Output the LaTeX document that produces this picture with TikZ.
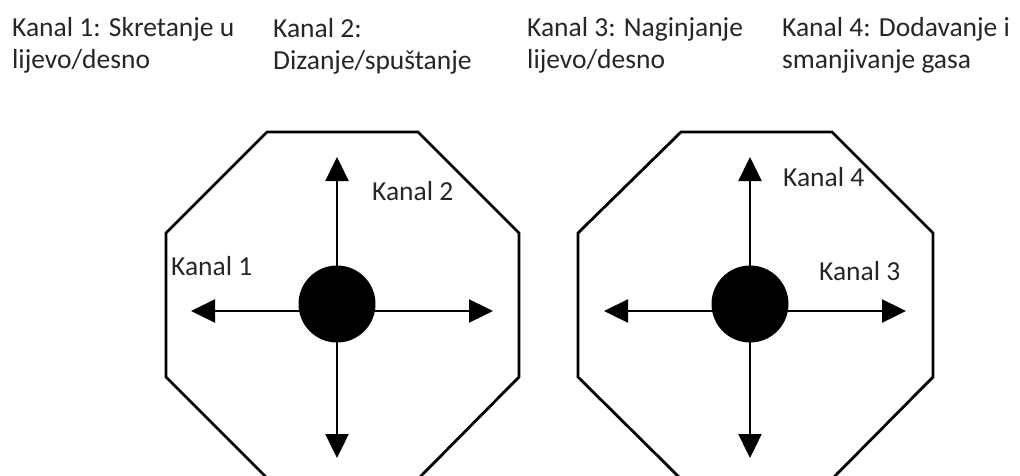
\documentclass[tikz,border=0pt]{standalone}
\usepackage{fontspec}
\setmainfont{Carlito}
\usetikzlibrary{arrows.meta}
\definecolor{txt}{HTML}{262626}
\begin{document}
\begin{tikzpicture}[x=1pt,y=-1pt,
  lbl/.style={anchor=base west,inner sep=0pt,text=txt,align=left,
    font=\fontsize{27.5}{32}\selectfont},
  oct/.style={draw=black,line width=2.8pt,line join=miter},
  arr/.style={draw=black,line width=2.4pt,-{Triangle[length=24pt,width=23pt]}},
  hub/.style={circle,fill=black,inner sep=0pt,minimum size=77pt}]
\clip (0,0) rectangle (1020,475);
\fill[white] (0,0) rectangle (1020,475);
% top labels (anchor = baseline of the last line)
\node[lbl] (t1) at (12,68) {Kanal 1: Skretanje u\\lijevo/desno};
\node[lbl] (t2) at (273,69) {Kanal 2:\\Dizanje/spuštanje};
\node[lbl] (t3) at (527,68) {Kanal 3: Naginjanje\\lijevo/desno};
\node[lbl] (t4) at (782,68) {Kanal 4: Dodavanje i\\smanjivanje gasa};
% left octagon
\draw[oct] (267,132) -- (418,132) -- (519,233) -- (519,377) -- (419,478)
  -- (267,478) -- (166,377) -- (166,233) -- cycle;
\coordinate (h1) at (337,311);
\coordinate (c1) at (337,304);
\coordinate (u1) at (337,157);
\coordinate (d1) at (337,458);
\coordinate (l1) at (191,311);
\coordinate (r1) at (493,311);
\draw[arr] (h1) -- (u1);
\draw[arr] (h1) -- (d1);
\draw[arr] (h1) -- (l1);
\draw[arr] (h1) -- (r1);
\node[hub] (hubA) at (c1) {};
\node[lbl] (k2) at (372,200) {Kanal 2};
\node[lbl] (k1) at (171,275) {Kanal 1};
% right octagon
\draw[oct] (681,132) -- (832,132) -- (933,233) -- (933,377) -- (833,478)
  -- (680,478) -- (578,377) -- (578,233) -- cycle;
\coordinate (h2) at (750,311);
\coordinate (c2) at (750,304);
\coordinate (u2) at (750,157);
\coordinate (d2) at (750,458);
\coordinate (l2) at (604,311);
\coordinate (r2) at (906,311);
\draw[arr] (h2) -- (u2);
\draw[arr] (h2) -- (d2);
\draw[arr] (h2) -- (l2);
\draw[arr] (h2) -- (r2);
\node[hub] (hubB) at (c2) {};
\node[lbl] (k4) at (783,186) {Kanal 4};
\node[lbl] (k3) at (819,280) {Kanal 3};
\end{tikzpicture}
\end{document}
